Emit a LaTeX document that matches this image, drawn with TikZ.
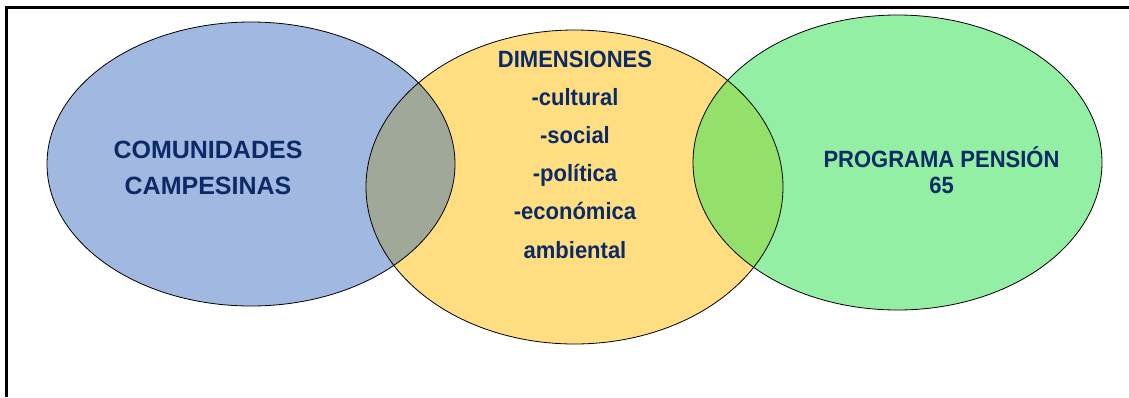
\documentclass[tikz,border=0pt]{standalone}
\usepackage{fontspec}
\setmainfont{Liberation Sans}
\usetikzlibrary{positioning}

\definecolor{comblue}{HTML}{A1B8E0}
\definecolor{dimyellow}{HTML}{FFDE82}
\definecolor{pengreen}{HTML}{93EFA3}
\definecolor{leftmix}{HTML}{A0A89A}
\definecolor{rightmix}{HTML}{93E06A}
\definecolor{navy}{HTML}{0B2A66}

\newcommand{\tall}[1]{\scalebox{1}[1.07]{#1}}

\begin{document}
\begin{tikzpicture}[x=1pt,y=-1pt,
    ring/.style={draw=black,line width=0.8pt},
    txt/.style={anchor=base,inner sep=0pt,text=navy,font=\bfseries\fontsize{22}{26}\selectfont},
    bigtxt/.style={txt,font=\bfseries\fontsize{25}{30}\selectfont}]
    \useasboundingbox (0,0) rectangle (1129,397);

    \coordinate (com) at (251,164);
    \coordinate (dim) at (574.5,187);
    \coordinate (pen) at (897.5,162.5);

    % the three sets
    \fill[comblue] (com) ellipse [x radius=204,y radius=142];
    \fill[dimyellow] (dim) ellipse [x radius=208.5,y radius=157];
    \fill[pengreen] (pen) ellipse [x radius=204.5,y radius=147.5];

    % overlaps
    \begin{scope}
        \clip (dim) ellipse [x radius=208.5,y radius=157];
        \fill[leftmix] (com) ellipse [x radius=204,y radius=142];
        \fill[rightmix] (pen) ellipse [x radius=204.5,y radius=147.5];
    \end{scope}

    \draw[ring] (com) ellipse [x radius=204,y radius=142];
    \draw[ring] (dim) ellipse [x radius=208.5,y radius=157];
    \draw[ring] (pen) ellipse [x radius=204.5,y radius=147.5];

    % frame
    \draw[line width=3pt] (6.5,397) -- (6.5,7) -- (1129,7);

    \node[bigtxt] (com1) at (208,158) {COMUNIDADES};
    \node[bigtxt] (com2) at (208,194) {CAMPESINAS};

    \foreach \t [count=\i from 0] in {DIMENSIONES,-cultural,-social,-política,-económica,ambiental}
        \node[txt] (dim\i) at (575,67+38.2*\i) {\tall{\t}};

    \node[txt] (pen1) at (941.5,167) {\tall{PROGRAMA PENSIÓN}};
    \node[txt] (pen2) at (941.5,193) {\tall{65}};
\end{tikzpicture}
\end{document}
